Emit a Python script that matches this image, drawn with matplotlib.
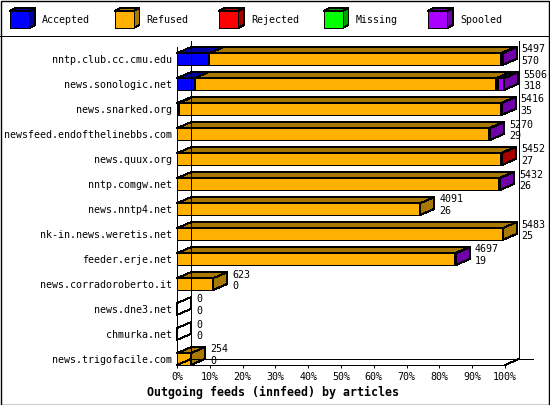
import matplotlib
matplotlib.use('Agg')
import matplotlib.pyplot as plt
from matplotlib.patches import Polygon, Rectangle
from matplotlib.lines import Line2D

# innfeed outgoing feeds, share of articles (percent of the widest bar)
hosts = ['nntp.club.cc.cmu.edu', 'news.sonologic.net', 'news.snarked.org',
         'newsfeed.endofthelinebbs.com', 'news.quux.org', 'nntp.comgw.net',
         'news.nntp4.net', 'nk-in.news.weretis.net', 'feeder.erje.net',
         'news.corradoroberto.it', 'news.dne3.net', 'chmurka.net',
         'news.trigofacile.com']
accepted = [9.9, 5.4, 0.5, 0, 0, 0, 0, 0, 0, 0, 0, 0, 0]
refused = [88.9, 92.0, 98.2, 95.2, 98.7, 98.2, 74.2, 99.3, 84.8, 11.1, 0, 0, 4.3]
rejected = [0, 0.6, 0, 0, 0.4, 0, 0, 0, 0, 0, 0, 0, 0]
missing = [0, 0, 0, 0, 0, 0, 0, 0, 0, 0, 0, 0, 0]
spooled = [0.5, 1.8, 0.3, 0.3, 0, 0.3, 0, 0, 0.3, 0, 0, 0, 0]
offered = [5497, 5506, 5416, 5270, 5452, 5432, 4091, 5483, 4697, 623, 0, 0, 254]
spool_count = [570, 318, 35, 29, 27, 26, 26, 25, 19, 0, 0, 0, 0]

names = ['Accepted', 'Refused', 'Rejected', 'Missing', 'Spooled']
front_col = ['#0000ff', '#ffb000', '#ff0000', '#00ff00', '#aa00ff']
dark_col = ['#0000a0', '#a87800', '#a80000', '#00a000', '#7000a8']

MONO = 'DejaVu Sans Mono'
W, H = 550, 405

fig = plt.figure(figsize=(5.5, 4.05), dpi=100)
fig.patch.set_facecolor('white')

# plot area (front plane) in pixels: x 177..505, y 47..365
ax = fig.add_axes([177 / W, 1 - 365 / H, 328 / W, 318 / H])
ax.set_xlim(0, 100)
ax.set_ylim(12.24, -0.48)
ax.set_facecolor('none')
for s in ['top', 'right']:
    ax.spines[s].set_visible(False)
for s in ['left', 'bottom']:
    ax.spines[s].set_linewidth(0.72)
ax.set_xticks(range(0, 101, 10))
ax.set_xticklabels(['%d%%' % v for v in range(0, 101, 10)], fontsize=7.2, family=MONO)
ax.tick_params(axis='x', length=2.2, width=0.72, pad=2.5)
ax.set_yticks(range(len(hosts)))
ax.set_yticklabels(hosts, fontsize=7.2, family=MONO)
ax.tick_params(axis='y', length=0, pad=3.6)

# depth of the 3d effect: 14 px right, 6 px up
fig.canvas.draw()
p0 = ax.transData.transform((0, 0))
p1 = ax.transData.transform((1, 1))
DX = 14 / (p1[0] - p0[0])
DY = 6 / (p1[1] - p0[1])

ylo, yhi = ax.get_ylim()
line_kw = dict(color='black', lw=0.72, clip_on=False, antialiased=False)
ax.plot([DX, DX], [ylo + DY, yhi + DY], **line_kw)
ax.plot([100 + DX, 100 + DX], [ylo + DY, yhi + DY], **line_kw)
ax.plot([DX, 100 + 2 * DX], [ylo + DY, ylo + DY], **line_kw)
ax.plot([100, 100 + DX], [ylo, ylo + DY], **line_kw)
ax.plot([0, DX], [ylo, ylo + DY], **line_kw)


def box(x0, x1, yc, h, fc, sc):
    yt, yb = yc - h / 2, yc + h / 2
    faces = [
        ([(x0, yt), (x1, yt), (x1, yb), (x0, yb)], fc),
        ([(x0, yt), (x0 + DX, yt + DY), (x1 + DX, yt + DY), (x1, yt)], sc),
        ([(x1, yt), (x1 + DX, yt + DY), (x1 + DX, yb + DY), (x1, yb)], sc),
    ]
    for pts, c in faces:
        ax.add_patch(Polygon(pts, closed=True, facecolor=c, edgecolor='black',
                             lw=0.72, clip_on=False, antialiased=False))


series = [accepted, refused, rejected, missing, spooled]
bar_h = 0.47
for i in range(len(hosts)):
    left = 0.0
    drawn = False
    for k, vals in enumerate(series):
        v = vals[i]
        if v <= 0:
            continue
        box(left, left + v, i, bar_h, front_col[k], dark_col[k])
        left += v
        drawn = True
    if not drawn:
        box(0, 0, i, bar_h, 'white', 'white')
    tx = left + DX + 1.5
    ax.text(tx, i - 0.38, str(offered[i]), fontsize=7.2, family=MONO,
            va='center', ha='left', clip_on=False)
    ax.text(tx, i + 0.08, str(spool_count[i]), fontsize=7.2, family=MONO,
            va='center', ha='left', clip_on=False)

fig.text(273 / W, 1 - 392 / H, 'Outgoing feeds (innfeed) by articles',
         ha='center', va='center', fontsize=8.4, family=MONO, weight='bold')

# legend strip
lg = fig.add_axes([0, 1 - 35 / H, 1, 35 / H])
lg.set_xlim(0, W)
lg.set_ylim(35, 0)
lg.axis('off')
for k, name in enumerate(names):
    x0 = 10 + 104.5 * k
    x1, y0, y1 = x0 + 19, 11, 28
    lg.add_patch(Polygon([(x0, y0), (x0 + 6, y0 - 3), (x1 + 6, y0 - 3), (x1, y0)],
                         facecolor=dark_col[k], edgecolor='black', lw=0.72,
                         antialiased=False))
    lg.add_patch(Polygon([(x1, y0), (x1 + 6, y0 - 3), (x1 + 6, y1 - 3), (x1, y1)],
                         facecolor=dark_col[k], edgecolor='black', lw=0.72,
                         antialiased=False))
    lg.add_patch(Rectangle((x0, y0), 19, 17, facecolor=front_col[k],
                           edgecolor='black', lw=0.72, antialiased=False))
    lg.text(x0 + 32, 20, name, fontsize=7.2, family=MONO, va='center', ha='left')

fig.add_artist(Line2D([0, 1], [1 - 35.5 / H, 1 - 35.5 / H], color='black',
                      lw=0.72, transform=fig.transFigure))
fig.add_artist(Rectangle((0.5 / W, 0.5 / H), 1 - 1.5 / W, 1 - 1.5 / H,
                         transform=fig.transFigure, fill=False,
                         edgecolor='black', lw=1))

fig.savefig('out.png', dpi=100)
